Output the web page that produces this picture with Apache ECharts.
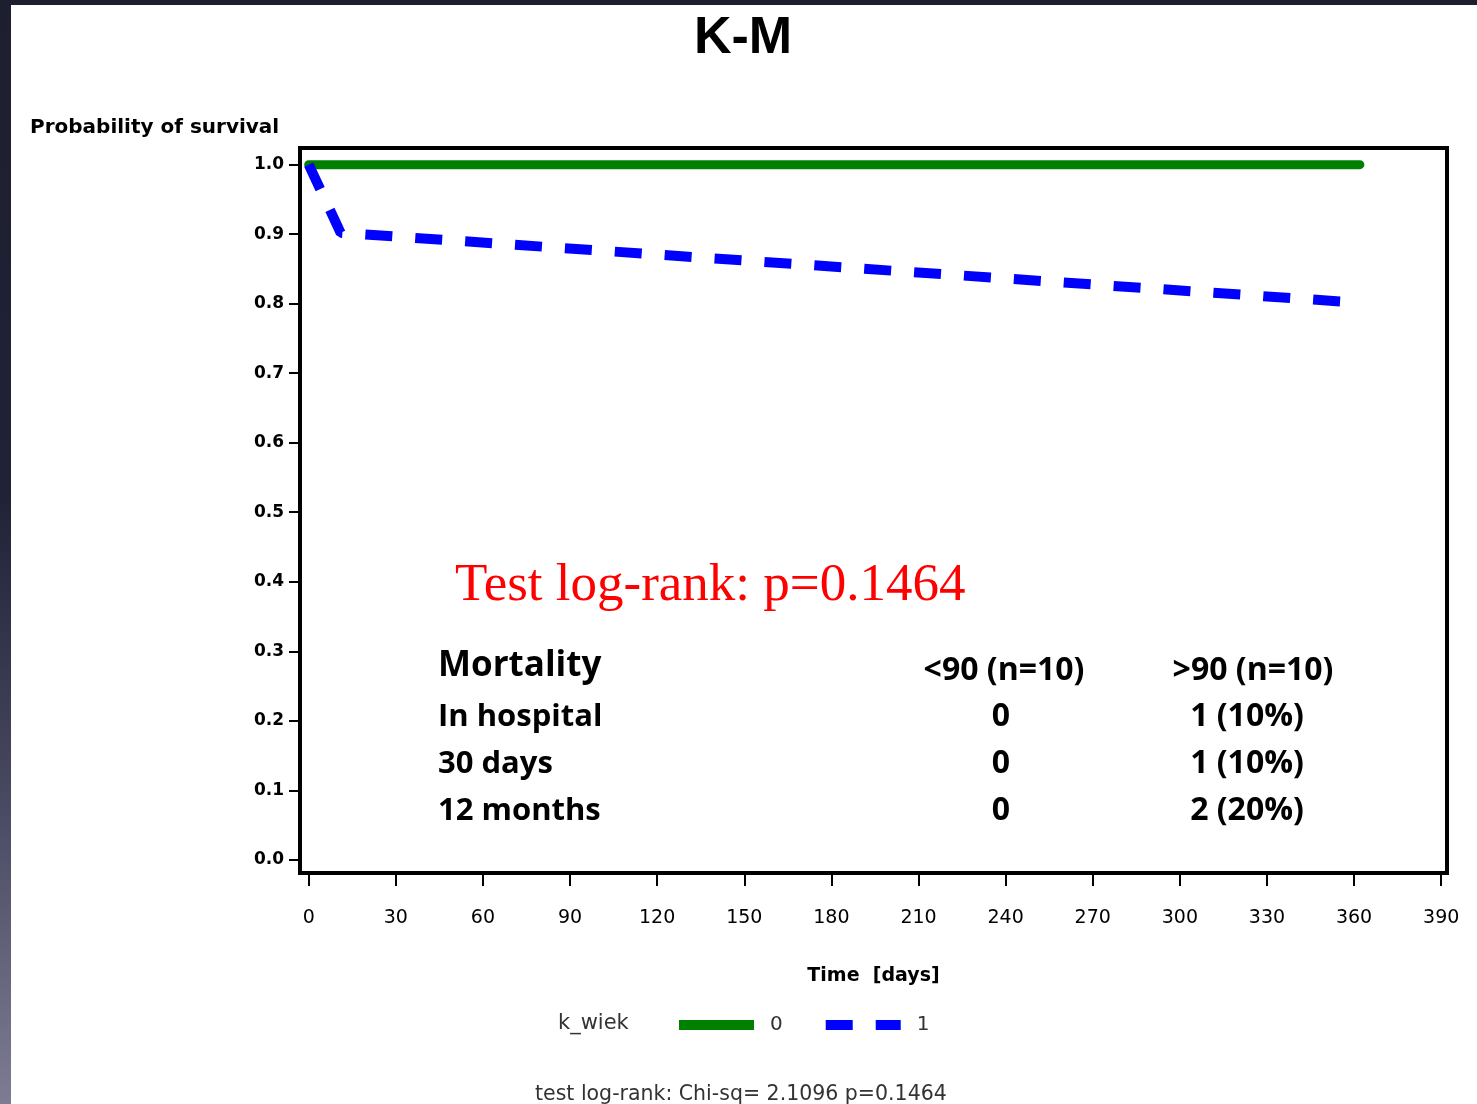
<!DOCTYPE html>
<html>
<head>
<meta charset="utf-8">
<title>K-M</title>
<script src="https://cdn.jsdelivr.net/npm/echarts@6/dist/echarts.min.js"></script>
<style>
  html, body {
    margin: 0;
    width: 1477px;
    height: 1104px;
    overflow: hidden;
    background: linear-gradient(to bottom, #1d1f30 0%, #202236 45%, #4c4d66 75%, #7d7c93 100%);
  }
  #paper {
    position: absolute;
    left: 11px;
    top: 5px;
    right: 0;
    bottom: 0;
    background: #fff;
  }
  #chart {
    position: absolute;
    left: 0;
    top: 0;
    width: 1477px;
    height: 1104px;
  }
</style>
</head>
<body>
<div id="paper"></div>
<div id="chart"></div>
<script>
// k_wiek = 0 (green, solid)
const days0 = [0, 362]
const surv0 = [1.0, 1.0]
// k_wiek = 1 (blue, dashed)
const days1 = [0, 11, 356]
const surv1 = [1.0, 0.902, 0.803]

const xTicks = [0, 30, 60, 90, 120, 150, 180, 210, 240, 270, 300, 330, 360, 390]
const yTicks = [0, 0.1, 0.2, 0.3, 0.4, 0.5, 0.6, 0.7, 0.8, 0.9, 1.0]

// mortality table
const tableHead = ['Mortality', '<90 (n=10)', '>90 (n=10)']
const tableRows = ['In hospital', '30 days', '12 months']
const colLow = ['0', '0', '0']
const colHigh = ['1 (10%)', '1 (10%)', '2 (20%)']

const pair = (xs, ys) => xs.map((x, i) => [x, ys[i]])

const chart = echarts.init(document.getElementById('chart'), null, { renderer: 'canvas' })

// table texts
const tableFont = '"Open Sans", "Noto Sans", sans-serif'
const tableGraphics = []
tableGraphics.push({
  type: 'text', x: 438, y: 666,
  style: { text: tableHead[0], font: 'bold 35px ' + tableFont, fill: '#000', verticalAlign: 'middle' }
})
tableGraphics.push({
  type: 'text', x: 1004, y: 671,
  style: { text: tableHead[1], font: 'bold 32px ' + tableFont, fill: '#000', align: 'center', verticalAlign: 'middle' }
})
tableGraphics.push({
  type: 'text', x: 1253, y: 671,
  style: { text: tableHead[2], font: 'bold 32px ' + tableFont, fill: '#000', align: 'center', verticalAlign: 'middle' }
})
tableRows.forEach((name, i) => {
  const cy = 717 + i * 47
  tableGraphics.push({
    type: 'text', x: 438, y: cy,
    style: { text: name, font: 'bold 31px ' + tableFont, fill: '#000', align: 'left', verticalAlign: 'middle' }
  })
  tableGraphics.push({
    type: 'text', x: 1001, y: cy,
    style: { text: colLow[i], font: 'bold 32px ' + tableFont, fill: '#000', align: 'center', verticalAlign: 'middle' }
  })
  tableGraphics.push({
    type: 'text', x: 1247, y: cy,
    style: { text: colHigh[i], font: 'bold 32px ' + tableFont, fill: '#000', align: 'center', verticalAlign: 'middle' }
  })
})

chart.setOption({
  animation: false,
  backgroundColor: 'transparent',
  title: {
    text: 'K-M',
    left: 689,
    top: 8,
    textStyle: {
      fontFamily: '"Liberation Sans", Arial, sans-serif',
      fontWeight: 'bold',
      fontSize: 52,
      color: '#000'
    }
  },
  grid: {
    left: 300,
    top: 148,
    width: 1147,
    height: 725,
    show: true,
    backgroundColor: '#fff',
    borderColor: '#000',
    borderWidth: 4
  },
  legend: {
    left: 674,
    top: 1015,
    padding: 0,
    itemWidth: 75,
    itemHeight: 10,
    itemGap: 38,
    data: ['0', '1'],
    lineStyle: { width: 10, cap: 'butt' },
    itemStyle: { opacity: 0 },
    textStyle: {
      fontFamily: '"DejaVu Sans", sans-serif',
      fontSize: 20,
      color: '#333',
      padding: [0, 0, 0, 11]
    }
  },
  xAxis: {
    type: 'value',
    min: -3,
    max: 392,
    offset: 2,
    name: 'Time  [days]',
    nameLocation: 'middle',
    nameGap: 92,
    nameTextStyle: {
      fontFamily: '"DejaVu Sans", sans-serif',
      fontWeight: 'bold',
      fontSize: 19,
      color: '#000'
    },
    axisLine: { show: false, onZero: false },
    splitLine: { show: false },
    axisTick: {
      show: true,
      inside: false,
      length: 11,
      customValues: xTicks,
      lineStyle: { color: '#000', width: 2 }
    },
    axisLabel: {
      customValues: xTicks,
      margin: 34,
      fontFamily: '"DejaVu Sans", sans-serif',
      fontSize: 19,
      color: '#000'
    }
  },
  yAxis: {
    type: 'value',
    min: -0.019,
    max: 1.024,
    offset: 2,
    axisLine: { show: false, onZero: false },
    splitLine: { show: false },
    axisTick: {
      show: true,
      inside: false,
      length: 9,
      customValues: yTicks,
      lineStyle: { color: '#000', width: 2 }
    },
    axisLabel: {
      customValues: yTicks,
      margin: 14,
      formatter: v => v.toFixed(1),
      fontFamily: '"DejaVu Sans", sans-serif',
      fontWeight: 'bold',
      fontSize: 17,
      color: '#000'
    }
  },
  series: [
    {
      name: '0',
      type: 'line',
      data: pair(days0, surv0),
      symbol: 'none',
      color: '#008000',
      lineStyle: { color: '#008000', width: 9, cap: 'round' }
    },
    {
      name: '1',
      type: 'line',
      data: pair(days1, surv1),
      symbol: 'none',
      color: '#0000ff',
      lineStyle: { color: '#0000ff', width: 10, type: [27, 23], cap: 'butt' }
    }
  ],
  graphic: [
    {
      type: 'text', x: 30, y: 128,
      style: {
        text: 'Probability of survival',
        font: 'bold 20px "DejaVu Sans", sans-serif',
        fill: '#000',
        verticalAlign: 'middle'
      }
    },
    {
      type: 'text', x: 455, y: 586,
      style: {
        text: 'Test log-rank: p=0.1464',
        font: '53px "Liberation Serif", "Times New Roman", serif',
        fill: '#ff0000',
        verticalAlign: 'middle'
      }
    },
    {
      type: 'text', x: 558, y: 1024,
      style: {
        text: 'k_wiek',
        font: '21px "DejaVu Sans", sans-serif',
        fill: '#333',
        verticalAlign: 'middle'
      }
    },
    {
      type: 'text', x: 535, y: 1095,
      style: {
        text: 'test log-rank: Chi-sq= 2.1096 p=0.1464',
        font: '20.5px "DejaVu Sans", sans-serif',
        fill: '#333',
        verticalAlign: 'middle'
      }
    }
  ].concat(tableGraphics)
})
</script>
</body>
</html>
